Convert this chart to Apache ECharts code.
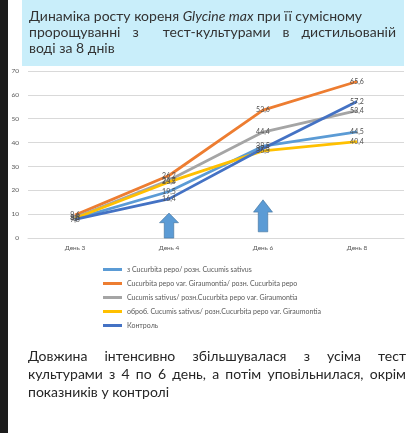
<!DOCTYPE html>
<html><head><meta charset="utf-8">
<script src="https://cdn.jsdelivr.net/npm/echarts@6/dist/echarts.min.js"></script>
<style>html,body{margin:0;padding:0;background:#fff}#c{width:415px;height:433px}</style>
</head><body><div id="c"></div>
<script>
const days = ['День 3', 'День 4', 'День 6', 'День 8'];
const seriesNames = [
  'з Cucurbita pepo/ розн. Cucumis sativus',
  'Cucurbita pepo var. Giraumontia/ розн. Cucurbita pepo',
  'Cucumis sativus/ розн.Cucurbita pepo var. Giraumontia',
  'оброб. Cucumis sativus/ розн.Cucurbita pepo var. Giraumontia',
  'Контроль'
];
const sCucurbita = [8.0, 19.5, 38.5, 44.5];
const sGiraumontia = [9.6, 26.2, 53.6, 65.6];
const sCucumis = [8.6, 24.2, 44.4, 53.4];
const sObrob = [8.3, 23.5, 36.5, 40.4];
const sControl = [7.8, 16.4, 37.5, 57.2];
const yTicks = [0, 10, 20, 30, 40, 50, 60, 70];
const arrowMarks = [['День 4', 5.2], ['День 6', 9.3]];
const titleLines = ['Динаміка росту кореня ', 'Glycine max', ' при її сумісному'];
const titleLine2 = 'пророщуванні з  тест-культурами в дистильованій';
const titleLine3 = 'воді за 8 днів';
const noteLines = [
  'Довжина інтенсивно збільшувалася з усіма тест',
  'культурами з 4 по 6 день, а потім уповільнилася, окрім',
  'показників у контролі'
];

const colors = ['#5B9BD5', '#ED7D31', '#A5A5A5', '#FFC000', '#4472C4'];
const values = [sCucurbita, sGiraumontia, sCucumis, sObrob, sControl];
const FONT = 'Lato, "Open Sans", sans-serif';

const ctx = document.createElement('canvas').getContext('2d');
function justified(line, y, left, right, size, color) {
  const words = line.split(' ');
  ctx.font = size + 'px ' + FONT;
  const widths = words.map(w => ctx.measureText(w).width);
  const total = widths.reduce((a, b) => a + b, 0);
  const gap = (right - left - total) / (words.length - 1);
  const out = [];
  let x = left;
  words.forEach((w, i) => {
    out.push({type: 'text', left: x, top: y, style: {text: w, font: size + 'px ' + FONT, fill: color}});
    x += widths[i] + gap;
  });
  return out;
}

const graphics = [
  {type: 'rect', shape: {x: 0, y: 0, width: 8, height: 433}, style: {fill: '#1c1c1c'}, z: 0},
  {type: 'rect', shape: {x: 22, y: 0, width: 382, height: 66}, style: {fill: '#C9EEFA'}, z: 0},
  {type: 'text', left: 29, top: 9, z: 5, style: {
    text: '{n|' + titleLines[0] + '}{i|' + titleLines[1] + '}{n|' + titleLines[2] + '}',
    rich: {n: {font: '14px ' + FONT, fill: '#333'}, i: {font: 'italic 14px ' + FONT, fill: '#333'}}
  }}
];
graphics.push(...justified(titleLine2, 25, 29, 396, 14, '#333'));
graphics.push({type: 'text', left: 29, top: 41, style: {text: titleLine3, font: '14px ' + FONT, fill: '#333'}});
graphics.push(...justified(noteLines[0], 349, 28, 406, 14, '#262626'));
graphics.push(...justified(noteLines[1], 367, 28, 406, 14, '#262626'));
graphics.push({type: 'text', left: 28, top: 385, style: {text: noteLines[2], font: '14px ' + FONT, fill: '#262626'}});

const fmt = p => String(p.value).replace('.', ',');
const series = values.map((v, i) => ({
  name: seriesNames[i],
  type: 'line',
  data: v,
  symbol: 'circle',
  symbolSize: 0,
  lineStyle: {width: 2.8, color: colors[i]},
  itemStyle: {color: colors[i]},
  label: {show: true, position: 'inside', formatter: fmt, fontSize: 7, color: '#505050', fontFamily: FONT},
  z: 3
}));
series[0].markPoint = {
  symbol: 'path://M10,0 L20,10 L15,10 L15,26 L5,26 L5,10 L0,10 Z',
  symbolKeepAspect: false,
  label: {show: false},
  itemStyle: {color: '#5B9BD5', borderColor: '#41719C', borderWidth: 0.6},
  data: arrowMarks.map((a, i) => ({coord: a, symbolSize: i === 0 ? [19, 25] : [19, 32]})),
  z: 1
};

const chart = echarts.init(document.getElementById('c'));
chart.setOption({
  animation: false,
  backgroundColor: '#fff',
  color: colors,
  graphic: graphics,
  grid: {left: 28, right: 11, top: 71, bottom: 195},
  xAxis: {
    type: 'category', data: days, boundaryGap: true,
    axisLine: {show: true, lineStyle: {color: '#d9d9d9'}},
    axisTick: {show: false},
    axisLabel: {fontSize: 6.5, color: '#595959', fontFamily: FONT, margin: 6}
  },
  yAxis: {
    type: 'value', min: yTicks[0], max: yTicks[yTicks.length - 1], interval: 10,
    axisLine: {show: false}, axisTick: {show: false},
    splitLine: {lineStyle: {color: '#d9d9d9', width: 1}},
    axisLabel: {fontSize: 6.5, color: '#595959', fontFamily: FONT, margin: 9}
  },
  legend: {
    orient: 'vertical', left: 98, top: 260, itemWidth: 19, itemHeight: 3, itemGap: 5,
    icon: 'rect',
    textStyle: {fontSize: 7, color: '#595959', fontFamily: FONT, lineHeight: 9},
    data: seriesNames
  },
  series: series
});
</script></body></html>
